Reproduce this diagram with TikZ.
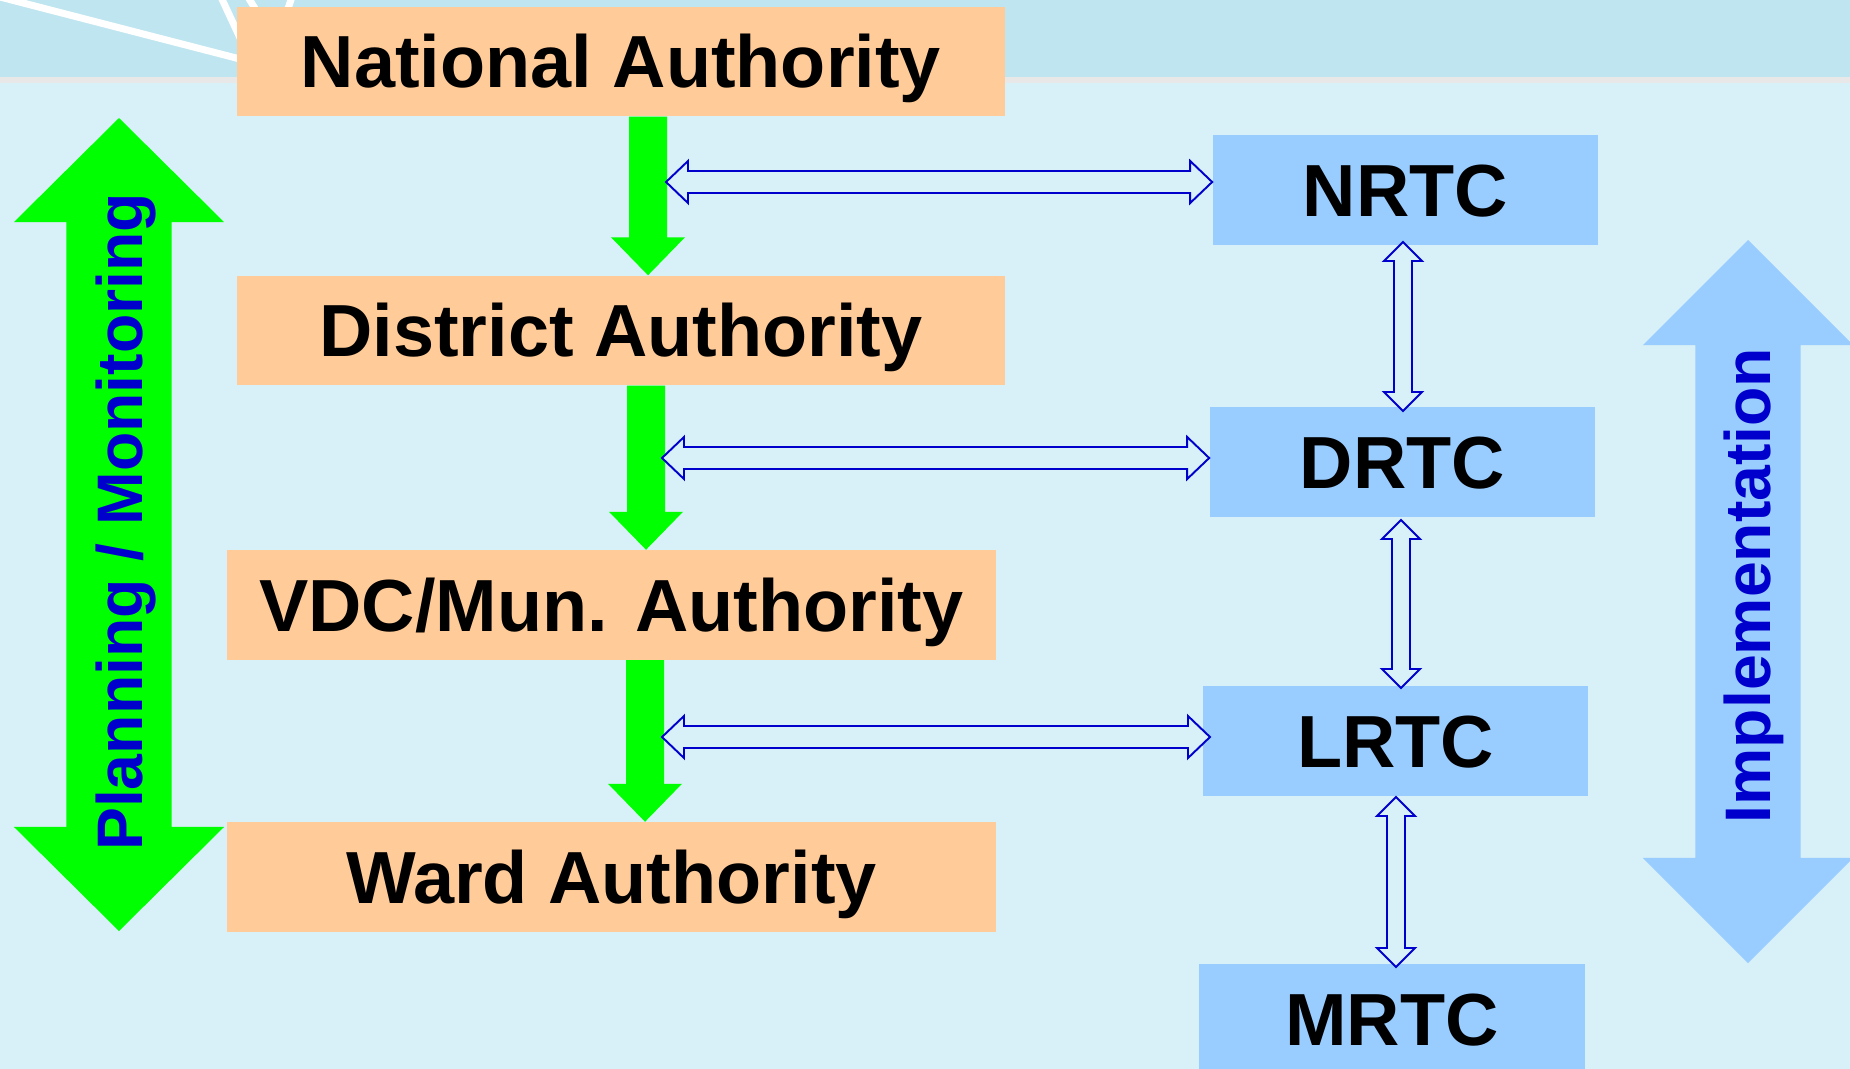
\documentclass[tikz,border=0pt]{standalone}
\usepackage{fontspec}
\setmainfont{Liberation Sans}
\usetikzlibrary{calc}

\definecolor{bandblue}{RGB}{190,229,240}
\definecolor{paleblue}{RGB}{216,240,248}
\definecolor{seamgray}{RGB}{232,232,232}
\definecolor{peach}{HTML}{FFCC99}
\definecolor{rtcblue}{HTML}{99CCFF}
\definecolor{flowgreen}{HTML}{00FF00}
\definecolor{labelblue}{HTML}{0000CC}

% block arrow: style, from, to, head length, head half width, shaft half width
\newcommand{\onewayarrow}[6]{%
  \path[#1] ($(#2)!#6!90:(#3)$) -- ($(#3)!#4!(#2)!#6!-90:(#2)$) -- ($(#3)!#4!(#2)!#5!-90:(#2)$) -- (#3)
    -- ($(#3)!#4!(#2)!#5!90:(#2)$) -- ($(#3)!#4!(#2)!#6!90:(#2)$) -- ($(#2)!#6!-90:(#3)$) -- cycle;}
% same, with a head at both ends
\newcommand{\twowayarrow}[6]{%
  \path[#1] (#2) -- ($(#2)!#4!(#3)!#5!90:(#3)$) -- ($(#2)!#4!(#3)!#6!90:(#3)$)
    -- ($(#3)!#4!(#2)!#6!-90:(#2)$) -- ($(#3)!#4!(#2)!#5!-90:(#2)$) -- (#3)
    -- ($(#3)!#4!(#2)!#5!90:(#2)$) -- ($(#3)!#4!(#2)!#6!90:(#2)$)
    -- ($(#2)!#4!(#3)!#6!-90:(#3)$) -- ($(#2)!#4!(#3)!#5!-90:(#3)$) -- cycle;}

\begin{document}
\begin{tikzpicture}[x=0.01cm, y=-0.01cm,
  authority/.style={fill=peach, minimum width=7.68cm, minimum height=1.09cm, inner sep=0pt,
    font=\fontsize{21}{21}\selectfont\bfseries, text height=15pt, text depth=0pt},
  rtc/.style={authority, fill=rtcblue, minimum width=3.85cm, minimum height=1.1cm},
  flow/.style={fill=flowgreen},
  reach/.style={fill=rtcblue},
  link/.style={draw=labelblue, line width=0.55pt, fill=paleblue},
  side/.style={font=\fontsize{18.3}{18.3}\selectfont\bfseries, text=labelblue, rotate=90, anchor=base, inner sep=0pt},
  streak/.style={white, line width=0.07cm}]

\useasboundingbox (0,0) rectangle (1850,1069);
\clip (0,0) rectangle (1850,1069);

% background
\fill[paleblue] (0,0) rectangle (1850,1069);
\fill[bandblue] (0,0) rectangle (1850,77);
\fill[seamgray] (0,77) rectangle (1850,83);
\draw[streak] (0,-3) -- (240,59);
\draw[streak] (221,-3) -- (241,40);
\draw[streak] (248,-3) -- (262,20);
\draw[streak] (292,-3) -- (284,20);

% authorities
\node[authority] (nat)  at (621,61.5)  {National Authority};
\node[authority] (dist) at (621,330.5) {District Authority};
\node[authority] (vdc)  at (611.5,605) {VDC/Mun. Authority};
\node[authority] (ward) at (611.5,877) {Ward Authority};

% training centres
\node[rtc] (nrtc) at (1405.5,190) {NRTC};
\node[rtc] (drtc) at (1402.5,462) {DRTC};
\node[rtc] (lrtc) at (1395.5,741) {LRTC};
\node[rtc] (mrtc) at (1392,1019)  {MRTC};

% green steps down
\coordinate (g1s) at ([xshift=0.27cm]nat.south);
\coordinate (g1e) at (g1s |- dist.north);
\coordinate (g2s) at ([xshift=0.25cm]dist.south);
\coordinate (g2e) at (g2s |- vdc.north);
\coordinate (g3s) at ([xshift=0.335cm]vdc.south);
\coordinate (g3e) at (g3s |- ward.north);
\onewayarrow{flow}{g1s}{g1e}{0.38cm}{0.37cm}{0.19cm}
\onewayarrow{flow}{g2s}{g2e}{0.38cm}{0.37cm}{0.19cm}
\onewayarrow{flow}{g3s}{g3e}{0.38cm}{0.37cm}{0.19cm}

% side arrows
\coordinate (pm1) at (119,118);
\coordinate (pm2) at (119,931);
\twowayarrow{flow}{pm1}{pm2}{1.04cm}{1.05cm}{0.525cm}
\node[side] (plan) at (142,522) {Planning / Monitoring};

\coordinate (im1) at (1748,240);
\coordinate (im2) at (1748,963);
\twowayarrow{reach}{im1}{im2}{1.05cm}{1.05cm}{0.525cm}
\node[side] (impl) at (1770,585.5) {Implementation};

% links across
\coordinate (h1a) at (666,182);
\coordinate (h1b) at (h1a -| nrtc.west);
\coordinate (h2a) at (662,458);
\coordinate (h2b) at (h2a -| drtc.west);
\coordinate (h3a) at (662,737);
\coordinate (h3b) at (1210,737);
\twowayarrow{link}{h1a}{h1b}{0.22cm}{0.21cm}{0.11cm}
\twowayarrow{link}{h2a}{h2b}{0.22cm}{0.21cm}{0.11cm}
\twowayarrow{link}{h3a}{h3b}{0.22cm}{0.21cm}{0.11cm}

% links down
\coordinate (v1a) at (1403,242);
\coordinate (v1b) at (1403,411);
\coordinate (v2a) at (1401,520);
\coordinate (v2b) at (1401,688);
\coordinate (v3a) at (1396,797);
\coordinate (v3b) at (1396,967);
\twowayarrow{link}{v1a}{v1b}{0.19cm}{0.19cm}{0.09cm}
\twowayarrow{link}{v2a}{v2b}{0.19cm}{0.19cm}{0.09cm}
\twowayarrow{link}{v3a}{v3b}{0.19cm}{0.19cm}{0.09cm}

\end{tikzpicture}
\end{document}
